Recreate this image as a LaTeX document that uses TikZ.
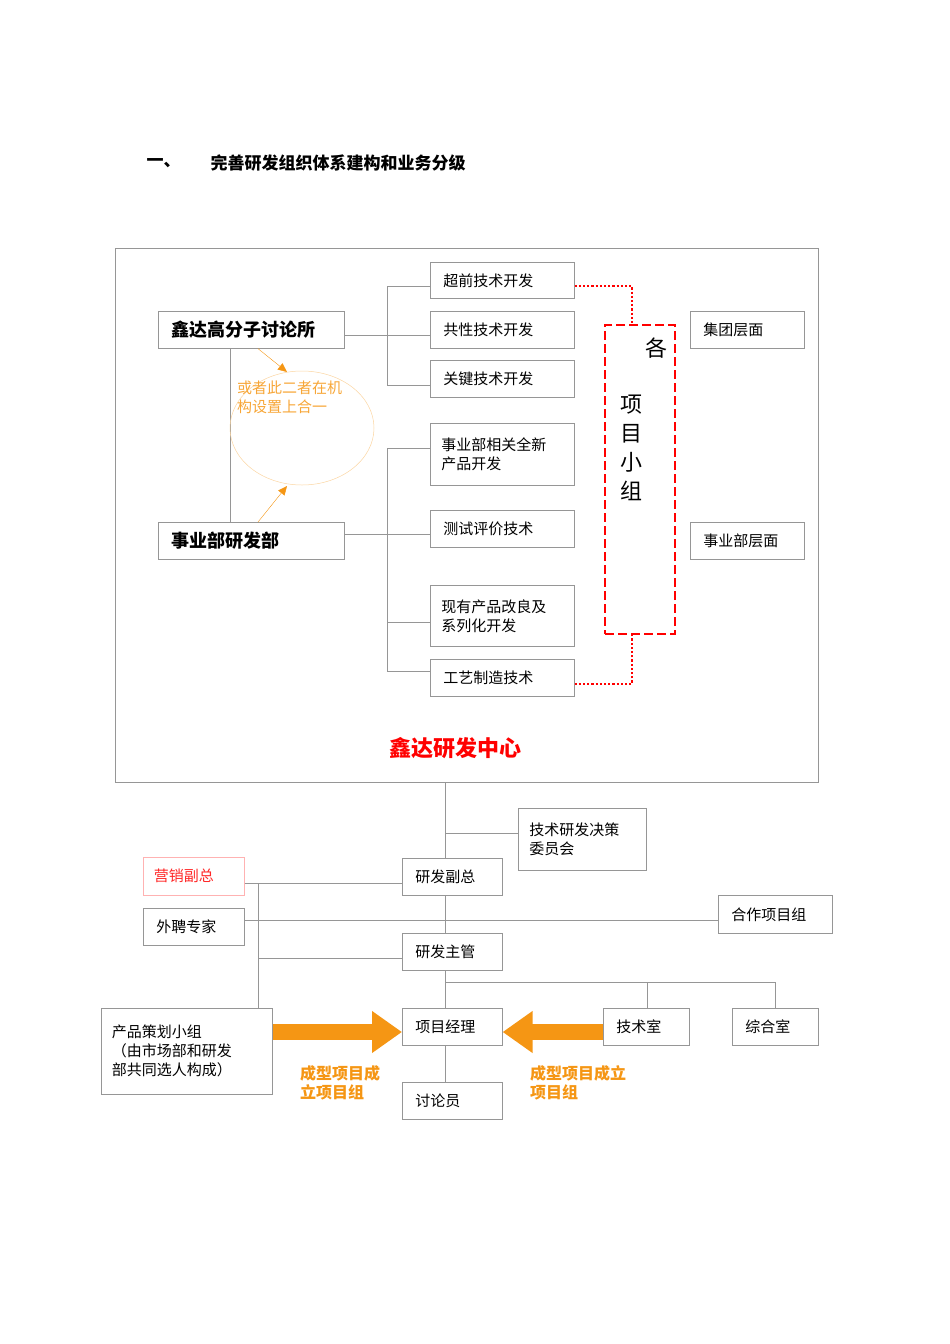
\documentclass[tikz,border=0pt]{standalone}
\usepackage{fontspec}
\setmainfont{Noto Sans CJK SC}
\usetikzlibrary{arrows.meta,calc,shapes.geometric}
\definecolor{og}{RGB}{245,150,20}
\definecolor{ln}{RGB}{150,150,150}
\begin{document}
\begin{tikzpicture}[x=1pt,y=-1pt,
 bx/.style={draw=ln,line width=0.6pt,anchor=north west,inner sep=0pt,font=\fontsize{15}{19}\selectfont,align=left},
 wire/.style={draw=ln,line width=0.6pt},
 bigarrow/.style={draw=og,line width=16pt,-{Triangle[length=30pt,width=40pt]}},
 redot/.style={draw=red,line width=2.2pt,dotted},
 ]
\useasboundingbox (0,0) rectangle (950,1344);
\newcommand\bx[6]{\node[bx,minimum width=#4-#2,minimum height=#5-#3,text width=#4-#2-26] (#1) at (#2,#3) {#6};}
\node[anchor=west,font=\fontsize{17}{20}\selectfont\bfseries] (t1) at (143,163) {一、};
\node[anchor=west,font=\fontsize{17}{20}\selectfont\bfseries] (t2) at (207,163) {完善研发组织体系建构和业务分级};
\node[draw=ln,line width=0.6pt,anchor=north west,minimum width=703,minimum height=534,inner sep=0pt] (outer) at (115,248) {};
% left boxes
\node[bx,minimum width=186,minimum height=37,text width=160,font=\fontsize{18}{20}\selectfont\bfseries] (xd) at (158,311) {鑫达高分子讨论所};
\node[bx,minimum width=186,minimum height=37,text width=160,font=\fontsize{18}{20}\selectfont\bfseries] (sy) at (158,522) {事业部研发部};
\bx{a1}{430}{262}{574}{298}{超前技术开发}
\bx{a2}{430}{311}{574}{348}{共性技术开发}
\bx{a3}{430}{360}{574}{397}{关键技术开发}
\node[bx,minimum width=144,minimum height=62,text width=122] (b1) at (430,423) {事业部相关全新\\产品开发\\[2pt]};
\bx{b2}{430}{510}{574}{547}{测试评价技术}
\node[bx,minimum width=144,minimum height=61,text width=122] (b3) at (430,585) {现有产品改良及\\系列化开发};
\bx{b4}{430}{659}{574}{696}{工艺制造技术}
\bx{jt}{690}{311}{804}{348}{集团层面}
\bx{sb}{690}{522}{804}{559}{事业部层面}
% connectors top group
\draw[wire] (a1.west |- 0,286) -- (387,286) -- (387,385) -- (a3.west |- 0,385);
\draw[wire] (xd.east |- 0,335) -- (a2.west |- 0,335);
\draw[wire] (b1.west |- 0,448) -- (387,448) -- (387,671) -- (b4.west |- 0,671);
\draw[wire] (sy.east |- 0,534) -- (b2.west |- 0,534);
\draw[wire] (387,622) -- (b3.west |- 0,622);
\draw[wire] (xd.south -| 230,0) -- (sy.north -| 230,0);
% ellipse
\node[draw=og!40,line width=0.5pt,ellipse,minimum width=144,minimum height=114,inner sep=0pt] (el) at (302,428) {};
\node[anchor=north west,text=og!85,font=\fontsize{15}{19}\selectfont,align=left,inner sep=0pt] (eltxt) at (237,381) {或者此二者在机\\构设置上合一};
\draw[og,line width=0.4pt,-{Triangle[length=9pt,width=8pt]}] (xd.south -| 258,0) -- (287,372);
\draw[og,line width=0.4pt,-{Triangle[length=9pt,width=8pt]}] (sy.north -| 258,0) -- (287,486);
% red dashed group
\node[draw=red,line width=2.4pt,dash pattern=on 9pt off 4pt,anchor=north west,minimum width=70,minimum height=309,inner sep=0pt] (grp) at (604,324) {};
\node[font=\fontsize{22}{24}\selectfont,inner sep=0pt] (ge) at (656,348) {各};
\node[font=\fontsize{22}{29}\selectfont,align=center,anchor=north,inner sep=0pt] (gx) at (631,395) {项\\目\\小\\组};
\draw[redot] (a1.east |- 0,286) -- (632,286) -- (grp.north -| 632,0);
\draw[redot] (b4.east |- 0,684) -- (632,684) -- (grp.south -| 632,0);
\node[text=red,font=\fontsize{22}{24}\selectfont\bfseries] (ctr) at (455,748) {鑫达研发中心};
% bottom
\node[bx,minimum width=128,minimum height=62,text width=106] (wy) at (518,808) {技术研发决策\\委员会\\[2pt]};
\bx{fz}{402}{858}{502}{895}{研发副总}
\node[bx,draw=red!30,text=red!85,minimum width=101,minimum height=38,text width=80] (yx) at (143,857) {营销副总};
\bx{wp}{143}{908}{244}{945}{外聘专家}
\bx{hz}{718}{895}{832}{933}{合作项目组}
\bx{zg}{402}{933}{502}{970}{研发主管}
\bx{pm}{402}{1008}{502}{1045}{项目经理}
\bx{js}{603}{1008}{689}{1045}{技术室}
\bx{zh}{732}{1008}{818}{1045}{综合室}
\node[bx,minimum width=171,minimum height=86,text width=150] (ch) at (101,1008) {产品策划小组\\（由市场部和研发\\部共同选人构成）\\[10pt]};
\bx{tl}{402}{1082}{502}{1119}{讨论员}
\draw[wire] (outer.south -| 445,0) -- (fz.north -| 445,0);
\draw[wire] (445,833) -- (wy.west |- 445,833);
\draw[wire] (fz.south -| 445,0) -- (zg.north -| 445,0);
\draw[wire] (zg.south -| 445,0) -- (pm.north -| 445,0);
\draw[wire] (pm.south -| 445,0) -- (tl.north -| 445,0);
\draw[wire] (yx.east |- 0,883) -- (fz.west |- 0,883);
\draw[wire] (258,883) -- (ch.north -| 258,0);
\draw[wire] (wp.east |- 0,920) -- (hz.west |- 0,920);
\draw[wire] (258,958) -- (zg.west |- 0,958);
\draw[wire] (445,982) -- (775,982) -- (zh.north -| 775,0);
\draw[wire] (647,982) -- (js.north -| 647,0);
\draw[bigarrow] (ch.east |- 0,1032) -- (pm.west |- 0,1032);
\draw[bigarrow] (js.west |- 0,1032) -- (pm.east |- 0,1032);
\node[anchor=north west,text=og,font=\fontsize{16}{19}\selectfont\bfseries,align=left,inner sep=0pt] (l1) at (300,1065) {成型项目成\\立项目组};
\node[anchor=north west,text=og,font=\fontsize{16}{19}\selectfont\bfseries,align=left,inner sep=0pt] (l2) at (530,1065) {成型项目成立\\项目组};
\end{tikzpicture}
\end{document}
